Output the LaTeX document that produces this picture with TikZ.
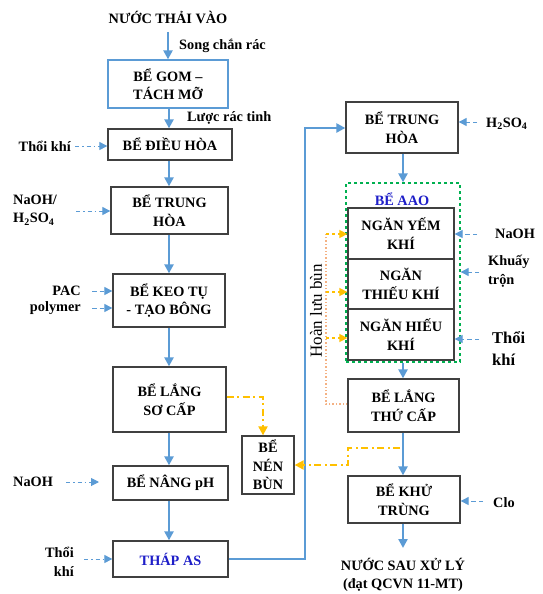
\documentclass[tikz,border=0pt]{standalone}
\usepackage{fontspec}
\setmainfont{Liberation Serif}
\usetikzlibrary{arrows.meta,positioning,calc}

\definecolor{flowblue}{RGB}{91,155,213}
\definecolor{sludgegold}{RGB}{255,192,0}
\definecolor{peach}{RGB}{244,177,131}
\definecolor{aaogreen}{RGB}{0,176,80}
\definecolor{labelblue}{RGB}{30,30,200}
\definecolor{boxgray}{RGB}{64,64,64}

\tikzset{
  txt/.style={font=\bfseries\fontsize{14.3}{18.5}\selectfont, inner sep=1pt},
  tank/.style={txt, draw=boxgray, line width=1.3pt, align=center, fill=white},
  flow/.style={flowblue, line width=2.8pt, -{Triangle[length=9pt,width=9pt]}},
  feed/.style={flowblue, line width=1pt, dash pattern=on 4pt off 3pt on 1.5pt off 3pt, -{Triangle[length=8pt,width=8pt]}},
  feeddash/.style={flowblue, line width=1pt, dash pattern=on 4.5pt off 3pt, -{Triangle[length=8pt,width=8pt]}},
  sludge/.style={sludgegold, line width=2pt, dash pattern=on 7pt off 3.5pt on 2pt off 3.5pt, -{Triangle[length=9pt,width=9pt]}},
}

\begin{document}
\begin{tikzpicture}[x=1pt, y=-1pt]
\path[fill=white, use as bounding box] (0,0) rectangle (542,594);
% Left column
\node[txt] (in) at (168,17) {NƯỚC THẢI VÀO};
\node[tank, draw=flowblue, minimum width=120, minimum height=48] (gom) at (168,84) {BỂ GOM –\\TÁCH MỠ};
\node[tank, minimum width=124, minimum height=31] (dieuhoa) at (170,144.5) {BỂ ĐIỀU HÒA};
\node[tank, minimum width=117, minimum height=47] (trunghoa) at (169.5,210.5) {BỂ TRUNG\\HÒA};
\node[tank, minimum width=112, minimum height=53] (keotu) at (169,300.5) {BỂ KEO TỤ\\- TẠO BÔNG};
\node[tank, minimum width=113, minimum height=65] (langsc) at (169.5,399.5) {BỂ LẮNG\\SƠ CẤP};
\node[tank, minimum width=115, minimum height=34] (nangph) at (170.5,483) {BỂ NÂNG pH};
\node[tank, minimum width=115, minimum height=36, text=labelblue] (thapas) at (170.5,559) {THÁP AS};
\node[tank, minimum width=52, minimum height=58] (nenbun) at (268,465) {BỂ\\NÉN\\BÙN};
% Right column
\node[draw=aaogreen, line width=1.3pt, dashed, minimum width=114, minimum height=179] (aao) at (403,272.5) {};
\node[txt, text=labelblue] (aaolbl) at (402,199) {BỂ AAO};
\node[tank, minimum width=112, minimum height=51] (trunghoab) at (402,127.5) {BỂ TRUNG\\HÒA};
\node[tank, minimum width=106, minimum height=51] (yem) at (401,233.5) {NGĂN YẾM\\KHÍ};
\node[tank, minimum width=106, minimum height=50] (thieu) at (401,284) {NGĂN\\THIẾU KHÍ};
\node[tank, minimum width=106, minimum height=51] (hieu) at (401,334.5) {NGĂN HIẾU\\KHÍ};
\node[tank, minimum width=111, minimum height=53] (langtc) at (403.5,405.5) {BỂ LẮNG\\THỨ CẤP};
\node[tank, minimum width=112, minimum height=47] (khutrung) at (404,499.5) {BỂ KHỬ\\TRÙNG};
\node[txt, align=center] (out) at (403,575) {NƯỚC SAU XỬ LÝ\\(đạt QCVN 11-MT)};
% Main flow
\draw[flow] (in.south |- 0,32) -- (in.south |- gom.north);
\node[txt, anchor=west] (song) at (178,46) {Song chắn rác};
\node[txt, anchor=west] (luoc) at (186,118) {Lược rác tinh};
\foreach \a/\b in {gom/dieuhoa, dieuhoa/trunghoa, trunghoa/keotu, keotu/langsc, langsc/nangph, nangph/thapas}
  \draw[flow] (169,0 |- \a.south) -- (169,0 |- \b.north);
\coordinate (ret) at (305,128);
\draw[flow] (thapas.east) -| (ret) -- (ret -| trunghoab.west);
\draw[flow] (403,0 |- trunghoab.south) -- (403,0 |- aao.north);
\draw[flow] (403,0 |- aao.south) -- (403,0 |- langtc.north);
\draw[flow] (403,0 |- langtc.south) -- (403,0 |- khutrung.north);
\draw[flow] (403,0 |- khutrung.south) -- (403,548);
% Chemicals and air
\node[txt, anchor=east] (khi1) at (72,146) {Thổi khí};
\draw[feed, shorten <=3pt] (khi1.east) -- (khi1.east -| dieuhoa.west);
\node[txt, anchor=west, align=left] (naoh1) at (12,210) {NaOH/\\H\textsubscript{2}SO\textsubscript{4}};
\draw[feed] (76,211) -- (trunghoa.west |- 0,211);
\node[txt, anchor=east] (pac) at (82,291) {PAC};
\node[txt, anchor=east] (poly) at (82,308) {polymer};
\foreach \n in {pac,poly}
  \draw[feeddash, shorten <=10pt] (\n.east) -- (\n.east -| keotu.west);
\node[txt, anchor=west] (naoh2) at (12,482) {NaOH};
\draw[feed, shorten <=12pt] (naoh2.east) -- (99,482);
\node[txt, anchor=east, align=right] (khi2) at (75,562) {Thổi\\khí};
\draw[feed] (84,559) -- (thapas.west);
\node[txt, anchor=west] (h2so4) at (485,124) {H\textsubscript{2}SO\textsubscript{4}};
\draw[feeddash] (477,122) -- (trunghoab.east |- 0,122);
\node[txt, anchor=west] (naoh3) at (494,234) {NaOH};
\draw[feeddash] (477,234) -- (yem.east |- 0,234);
\node[txt, anchor=west, align=left] (khuay) at (487,271) {Khuấy\\trộn};
\draw[feeddash] (479,272) -- (aao.east |- 0,272);
\node[txt, anchor=west, align=left, font=\bfseries\fontsize{16.5}{22}\selectfont] (khi3) at (491,348) {Thổi\\khí};
\draw[feeddash] (479,339) -- (hieu.east |- 0,339);
\node[txt, anchor=west] (clo) at (492,503) {Clo};
\draw[feeddash] (483,501) -- (khutrung.east |- 0,501);
% Sludge lines
\draw[sludge] (langsc.east |- 0,397) -| (263,0 |- nenbun.north);
\coordinate (s2) at (400,448);
\draw[sludge] (s2) -- ++(-52,0) |- (nenbun.east);
% Return sludge
\node[font=\fontsize{17}{20}\selectfont, rotate=90] (hlb) at (316,311) {Hoàn lưu bùn};
\coordinate (rs) at (326,404);
\draw[peach, line width=1.4pt, dotted] (langtc.west |- rs) -- (rs) -- (326,234);
\foreach \n/\y in {yem/234, thieu/292, hieu/338}
  \draw[sludgegold, line width=1.5pt, dashed, -{Triangle[length=8pt,width=8pt]}] (326,\y) -- (\n.west |- 0,\y);
\end{tikzpicture}
\end{document}
